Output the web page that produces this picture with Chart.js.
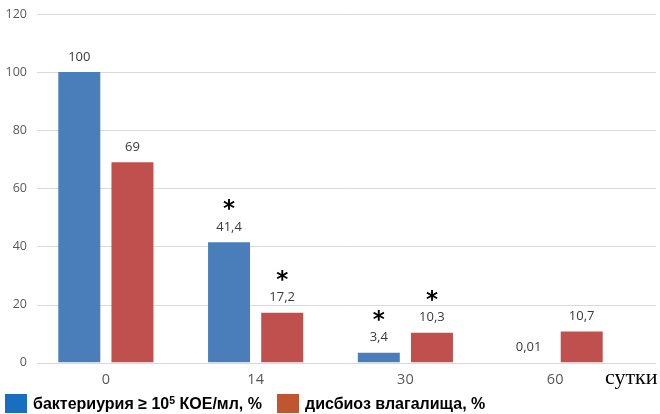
<!DOCTYPE html>
<html>
<head>
<meta charset="utf-8">
<script src="https://cdn.jsdelivr.net/npm/chart.js@4.4.0/dist/chart.umd.min.js"></script>
<style>
  html, body { margin: 0; padding: 0; background: #fff; }
  #wrap { position: relative; width: 660px; height: 414px; }
  #legend { position: absolute; left: 5px; top: 394px; font: bold 16px "Liberation Sans", Arial, sans-serif; color: #000; white-space: nowrap; line-height: 19px; }
  #legend span.box { display: inline-block; width: 22px; height: 19px; vertical-align: -4px; margin-right: 6px; }
  #legend span.item { margin-right: 15px; }
  #legend sup { font-size: 10.5px; vertical-align: 5px; line-height: 0; }
</style>
</head>
<body>
<div id="wrap">
  <canvas id="chart" width="660" height="414"></canvas>
  <div id="legend"></div>
</div>
<script>
const days = ['0', '14', '30', '60']
const bacteriuria = [100, 41.4, 3.4, 0.01]
const dysbiosis = [69, 17.2, 10.3, 10.7]
const bacteriuriaSig = [false, true, true, false]   // * над столбцом
const dysbiosisSig = [false, true, true, false]
const yTicks = [0, 20, 40, 60, 80, 100, 120]

const seriesNames = ['бактериурия ≥ 10⁵ КОЕ/мл, %', 'дисбиоз влагалища, %']
const barColors = ['#4a7ebb', '#c0504d']
const legendColors = ['#1a6ebf', '#c0562f']

// long grid lines across the whole width, like in the picture
const gridPlugin = {
    id: 'wideGrid',
    beforeDatasetsDraw(chart) {
        const ctx = chart.ctx
        const y = chart.scales.y
        ctx.save()
        ctx.strokeStyle = '#d9d9d9'
        ctx.lineWidth = 1
        y.ticks.forEach(t => {
            const py = Math.round(y.getPixelForValue(t.value)) + 0.5
            ctx.beginPath()
            ctx.moveTo(37, py)
            ctx.lineTo(656, py)
            ctx.stroke()
        })
        ctx.restore()
    }
}

const labelPlugin = {
    id: 'barLabels',
    afterDatasetsDraw(chart) {
        const ctx = chart.ctx
        const sigs = [bacteriuriaSig, dysbiosisSig]
        ctx.save()
        ctx.textAlign = 'center'
        chart.data.datasets.forEach((ds, di) => {
            chart.getDatasetMeta(di).data.forEach((bar, i) => {
                ctx.fillStyle = '#3a3a3a'
                ctx.font = '13px "Open Sans", sans-serif'
                ctx.textBaseline = 'middle'
                ctx.fillText(String(ds.data[i]).replace('.', ','), bar.x, bar.y - 15)
                if (sigs[di][i]) {
                    ctx.fillStyle = '#000'
                    ctx.font = 'bold 23px "DejaVu Sans", sans-serif'
                    ctx.fillText('*', bar.x, bar.y - 32)
                }
            })
        })
        // подпись оси X
        ctx.fillStyle = '#000'
        ctx.font = '22px "Liberation Serif", serif'
        ctx.textAlign = 'left'
        ctx.textBaseline = 'middle'
        ctx.fillText('сутки', 605, chart.scales.x.top + 16)
        ctx.restore()
    }
}

new Chart(document.getElementById('chart'), {
    type: 'bar',
    data: {
        labels: days,
        datasets: [
            { label: seriesNames[0], data: bacteriuria, backgroundColor: barColors[0] },
            { label: seriesNames[1], data: dysbiosis, backgroundColor: barColors[1] }
        ]
    },
    options: {
        responsive: false,
        animation: false,
        layout: { padding: { top: 14, right: 30, bottom: 16, left: 0 } },
        datasets: { bar: { categoryPercentage: 0.71, barPercentage: 0.79 } },
        scales: {
            x: {
                grid: { display: false, drawTicks: false },
                border: { display: false },
                ticks: { color: '#595959', padding: 9, font: { family: 'Open Sans', size: 14.5 } }
            },
            y: {
                min: 0,
                max: 120,
                afterBuildTicks: s => { s.ticks = yTicks.map(v => ({ value: v })) },
                afterFit: s => { s.width = 31 },
                grid: { display: false, drawTicks: false },
                border: { display: false },
                ticks: { color: '#595959', padding: 4, font: { family: 'Open Sans', size: 12.5 } }
            }
        },
        plugins: {
            legend: { display: false },
            tooltip: { enabled: false }
        }
    },
    plugins: [gridPlugin, labelPlugin]
})

document.getElementById('legend').innerHTML = seriesNames.map((n, i) =>
    `<span class="item"><span class="box" style="background:${legendColors[i]}"></span>${n.replace('⁵', '<sup>5</sup>')}</span>`
).join('')
</script>
</body>
</html>
